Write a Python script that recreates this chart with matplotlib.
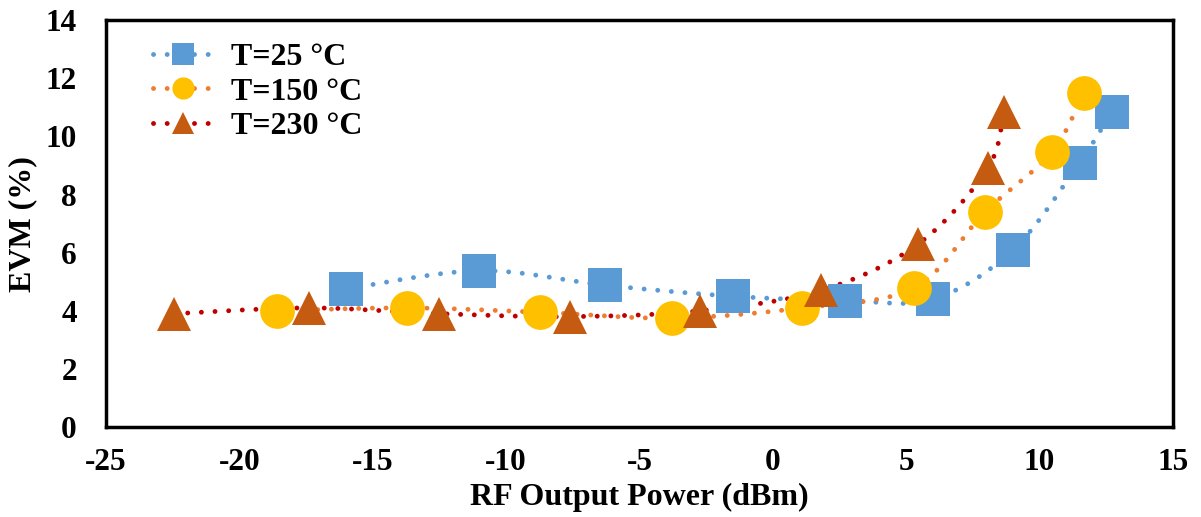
import numpy as np
import matplotlib
matplotlib.use("Agg")
import matplotlib.pyplot as plt
from matplotlib.lines import Line2D

# EVM vs RF output power at three temperatures
power_25 = [-16.0, -11.0, -6.3, -1.5, 2.7, 6.0, 9.0, 11.5, 12.7]
evm_25 = [4.75, 5.38, 4.88, 4.5, 4.35, 4.4, 6.1, 9.1, 10.85]

power_150 = [-18.6, -13.7, -8.75, -3.8, 1.1, 5.3, 7.95, 10.45, 11.65]
evm_150 = [4.0, 4.1, 3.95, 3.75, 4.1, 4.8, 7.4, 9.45, 11.5]

power_230 = [-22.45, -17.4, -12.5, -7.6, -2.75, 1.8, 5.45, 8.05, 8.65]
evm_230 = [3.9, 4.1, 3.9, 3.8, 4.0, 4.7, 6.3, 8.9, 10.85]

labels = ["T=25 °C", "T=150 °C", "T=230 °C"]
x_ticks = [-25, -20, -15, -10, -5, 0, 5, 10, 15]
y_ticks = [0, 2, 4, 6, 8, 10, 12, 14]


def smooth_path(xs, ys, n=40):
    """Cubic Bezier path through the points (Catmull-Rom style control points)."""
    p = np.column_stack([xs, ys]).astype(float)
    pts = np.vstack([p[0], p, p[-1]])
    out = []
    t = np.linspace(0, 1, n)[:, None]
    for i in range(1, len(pts) - 2):
        p0, p1, p2, p3 = pts[i - 1], pts[i], pts[i + 1], pts[i + 2]
        c1 = p1 + (p2 - p0) / 6.0
        c2 = p2 - (p3 - p1) / 6.0
        seg = ((1 - t) ** 3) * p1 + 3 * ((1 - t) ** 2) * t * c1 + 3 * (1 - t) * t ** 2 * c2 + t ** 3 * p2
        out.append(seg if i == 1 else seg[1:])
    seg = np.vstack(out)
    return seg[:, 0], seg[:, 1]


plt.rcParams["font.family"] = ["Liberation Serif", "DejaVu Serif"]
plt.rcParams["font.weight"] = "bold"
plt.rcParams["axes.unicode_minus"] = False

fig = plt.figure(figsize=(12.01, 5.17), dpi=100)
ax = fig.add_axes([0.0883, 0.174, 0.8884, 0.787])

series = [
    (power_25, evm_25, "#5B9BD5", "#5B9BD5", "s", 24.5, 15.5),
    (power_150, evm_150, "#ED7D31", "#FFC000", "o", 25, 16),
    (power_230, evm_230, "#C00000", "#C55A11", "^", 24, 16),
]

lw = 3.5
dots = (0, (0.01, 2.8))
handles = []
for (xs, ys, lc, mc, mk, ms, lms), lab in zip(series, labels):
    sx, sy = smooth_path(xs, ys)
    ax.plot(sx, sy, color=lc, lw=lw, linestyle=dots, dash_capstyle="round", zorder=2)
    ax.plot(xs, ys, linestyle="none", marker=mk, markersize=ms, color=mc,
            markeredgewidth=0, zorder=3)
    handles.append(Line2D([], [], color=lc, lw=lw, linestyle=dots, dash_capstyle="round",
                          marker=mk, markersize=lms, markerfacecolor=mc,
                          markeredgewidth=0))

ax.set_xlim(-25, 15)
ax.set_ylim(0, 14)
ax.set_xticks(x_ticks)
ax.set_yticks(y_ticks)
ax.tick_params(length=0, labelsize=22.5)
ax.tick_params(axis="x", pad=15)
ax.tick_params(axis="y", pad=21)
for sp in ax.spines.values():
    sp.set_linewidth(2.5)
    sp.set_color("black")

ax.set_xlabel("RF Output Power (dBm)", fontsize=23, fontweight="bold", labelpad=4)
ax.set_ylabel("EVM (%)", fontsize=23, fontweight="bold", labelpad=6)

ax.legend(handles=handles, labels=labels, loc="upper left", frameon=False,
          fontsize=23, handlelength=1.9, handletextpad=0.55, labelspacing=0.15,
          bbox_to_anchor=(0.032, 0.975), borderaxespad=0)

fig.savefig("out.png", dpi=100)
